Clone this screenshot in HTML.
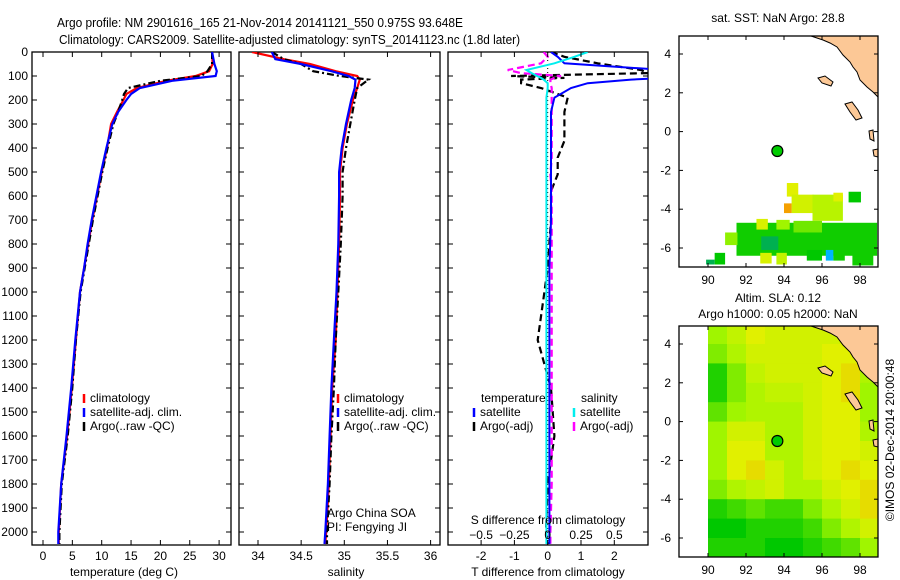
<!DOCTYPE html>
<html><head><meta charset="utf-8"><style>
body{margin:0;background:#fff}
svg{display:block;font-family:"Liberation Sans",Arial,sans-serif}
</style></head><body>
<svg id="c" width="900" height="580" viewBox="0 0 900 580" xmlns="http://www.w3.org/2000/svg">
<rect width="900" height="580" fill="#fff"/>
<text x="57" y="27" font-size="13" textLength="406" lengthAdjust="spacingAndGlyphs">Argo profile: NM 2901616_165 21-Nov-2014 20141121_550 0.975S 93.648E</text>
<text x="59" y="44" font-size="13" textLength="461" lengthAdjust="spacingAndGlyphs">Climatology: CARS2009. Satellite-adjusted climatology: synTS_20141123.nc (1.8d later)</text>
<g id="root"></g>
</svg>
<script>
// ---- data ----
const tDepth=[0,50,80,100,120,150,175,200,250,300,400,500,600,700,800,900,1000,1200,1400,1600,1800,2000,2050];
const tClim=[28.8,28.9,28.3,26,21,16,14.2,13.7,12.6,11.6,10.9,10,9.2,8.4,7.7,7,6.3,5.6,4.9,4.1,3.1,2.7,2.7];
const tSat=[28.8,29.2,29.6,29.4,22,16.5,15,14.2,12.8,11.8,10.8,9.9,9.1,8.3,7.6,7,6.3,5.5,4.8,4,3.1,2.6,2.6];
const tArgo=[28.8,28.8,28,27,20,14.5,13.8,13.5,12.8,12,11,10.1,9.3,8.5,7.8,7.1,6.4,5.6,5,4.2,3.2,2.8,2.8];
const sDepth=[0,30,50,80,100,115,150,200,300,400,500,600,800,1000,1200,1400,1600,1800,2000,2050];
const sClim=[33.93,34.3,34.6,34.9,35.15,35.18,35.15,35.1,35.03,34.98,34.95,34.95,34.94,34.92,34.9,34.86,34.84,34.82,34.79,34.78];
const sSat=[34.16,34.2,34.5,34.85,35.05,35.13,35.12,35.08,35.02,34.97,34.94,34.94,34.93,34.91,34.88,34.85,34.83,34.81,34.78,34.77];
const sArgo=[34.16,34.3,34.5,34.64,34.95,35.28,35.15,35.12,35.07,35.02,34.98,34.98,34.96,34.93,34.9,34.88,34.85,34.83,34.8,34.8];
const dDepth=[0,20,47,75,88,100,108,115,130,150,190,250,300,370,440,510,580,700,900,1000,1200,1400,1600,1800,2000,2050];
const dTSat=[0.1,0.3,0.5,3.5,3.5,3.5,3.5,2.5,1.2,0.7,0.2,0.1,0.1,0.1,0.1,0.1,0.1,0.1,0.05,0.05,0.05,0.05,0.05,0.05,0.05,0.05];
const dTArgo=[0.1,0.5,1.5,2.8,3,-1.1,0.5,-0.8,-0.8,-0.2,0.6,0.5,0.5,0.5,0.3,0.3,0.1,0.1,0,-0.1,-0.3,0.1,0.2,0,-0.05,0];
const dSSat=[0.3,0.2,0.05,-0.16,-0.12,-0.08,-0.05,-0.03,0,0,-0.01,-0.01,-0.01,-0.01,-0.01,-0.01,-0.01,-0.01,-0.01,-0.01,-0.01,-0.01,-0.01,-0.01,-0.01,-0.01];
const dSArgo=[-0.03,0,-0.05,-0.3,-0.2,0.1,0.05,0.02,0.02,0.03,0.03,0.03,0.03,0.03,0.03,0.02,0.03,0.03,0.03,0.03,0.03,0.03,0.03,0.03,0.02,0.02];
const tTicks=[0,5,10,15,20,25,30];
const sTicks=[34,34.5,35,35.5,36];
const dTTicks=[-2,-1,0,1,2];
const dSTicks=[-0.5,-0.25,0,0.25,0.5];
const depthTicks=[0,100,200,300,400,500,600,700,800,900,1000,1100,1200,1300,1400,1500,1600,1700,1800,1900,2000];
const lonTicks=[90,92,94,96,98];
const latTicks=[4,2,0,-2,-4,-6];
const floatLon=93.65, floatLat=-1;
// SST cells: lon0, lat0(south), width, height (deg), value
const sstCells=[[91.5,-6.4,7.4,1.7,0.05],[94.15,-3.35,0.6,0.7,0.9],[94.4,-4.2,1.15,0.95,0.8],[94.0,-4.2,0.4,0.5,1.3],[95.5,-4.6,1.6,1.35,0.65],[96.6,-3.6,0.5,0.45,0.9],[97.4,-3.65,0.65,0.55,0.0],[92.55,-5.05,0.6,0.55,0.85],[93.6,-5.05,0.7,0.5,0.5],[90.9,-5.85,0.65,0.65,0.45],[92.75,-6.8,0.6,0.55,0.85],[93.6,-6.85,0.55,0.6,0.7],[90.35,-6.85,0.55,0.6,0.0],[89.9,-6.85,0.45,0.25,-0.2],[95.2,-6.65,0.8,0.55,0.0],[96.2,-6.65,0.4,0.55,-0.8],[96.6,-6.65,0.6,0.55,0.05],[97.6,-6.9,1.1,0.8,0.05],[92.8,-6.1,0.9,0.7,-0.2],[94.5,-5.2,1.5,0.6,0.35]];
// SLA grid rows lat 5..-7 (1 deg), cols lon 90..99
const slaRows=[
[0.5,0.7,0.9,0.8,0.8,0.8,0.8,0.9,0.3],
[0.4,0.6,0.8,0.8,0.8,0.8,0.9,0.9,0.5],
[0.1,0.4,0.7,0.8,0.8,0.8,0.9,1.0,0.6],
[0.1,0.4,0.6,0.7,0.7,0.8,0.9,1.0,0.5],
[0.3,0.5,0.6,0.6,0.6,0.8,0.9,0.9,0.5],
[0.5,0.8,0.8,0.6,0.6,0.8,0.9,0.9,0.6],
[0.5,0.9,0.9,0.6,0.6,0.8,0.9,0.9,0.8],
[0.5,0.9,1.0,0.8,0.6,0.8,0.9,1.0,0.9],
[0.4,0.6,0.7,0.8,0.6,0.6,0.8,0.9,1.0],
[0.1,0.2,0.3,0.2,0.2,0.4,0.6,0.8,1.0],
[0.0,0.0,0.1,0.1,0.1,0.2,0.4,0.6,0.8],
[0.1,0.1,0.1,0.0,0.0,0.1,0.2,0.3,0.5]];

const NS='http://www.w3.org/2000/svg';
const root=document.getElementById('root');
function mk(tag,attrs,parent){const e=document.createElementNS(NS,tag);for(const k in attrs)e.setAttribute(k,attrs[k]);(parent||root).appendChild(e);return e;}
function txt(x,y,s,size,anchor,parent){const t=mk('text',{x:x,y:y,'font-size':size||12,'text-anchor':anchor||'start'},parent);t.textContent=s;return t;}

// profile panels
const PT=52,PB=545,DPX=0.24;
const yD=d=>PT+d*DPX;
function panel(x0,x1,name){
  const g=mk('g',{});
  
  
  const r=mk('rect',{x:x0,y:PT,width:x1-x0,height:PB-PT,fill:'none',stroke:'#000','stroke-width':1.3},g);
  
  
  depthTicks.forEach(d=>{mk('line',{x1:x0,x2:x0+5,y1:yD(d),y2:yD(d),stroke:'#000'},g);mk('line',{x1:x1-5,x2:x1,y1:yD(d),y2:yD(d),stroke:'#000'},g);});
  return g;
}
function line(g,xs,ds,fx,color,dash,w,name){
  const pts=xs.map((v,i)=>fx(v).toFixed(1)+','+yD(ds[i]).toFixed(1)).join(' ');
  const p=mk('polyline',{points:pts,fill:'none',stroke:color,'stroke-width':w||2.2},g);
  if(dash)p.setAttribute('stroke-dasharray',dash);
  
  
}
function clip(id,x0,x1,y0,y1){const cp=mk('clipPath',{id:id});mk('rect',{x:x0,y:y0,width:x1-x0,height:y1-y0},cp);}
function legendEntry(g,x,y,color,label,dash){
  mk('line',{x1:x,x2:x,y1:y-8,y2:y+1,stroke:color,'stroke-width':2.5},g);
  txt(x+6,y,label,12,'start',g);
}

// Panel 1 temperature
const xT=v=>43+v*5.87;
const g1=panel(32,231,'temperature-panel');
clip('c1',32,231,PT,PB);
const l1=mk('g',{'clip-path':'url(#c1)'},g1);
line(l1,tClim,tDepth,xT,'#f00',null,2.2,'temp-climatology-line');
line(l1,tArgo,tDepth,xT,'#000','7,3,2,3',2.2,'temp-argo-line');
line(l1,tSat,tDepth,xT,'#00f',null,2.2,'temp-satellite-line');
depthTicks.forEach(d=>{const t=txt(28,yD(d)+4,String(d),12,'end');});
tTicks.forEach(v=>{mk('line',{x1:xT(v),x2:xT(v),y1:PB,y2:PB-5,stroke:'#000'});mk('line',{x1:xT(v),x2:xT(v),y1:PT,y2:PT+5,stroke:'#000'});txt(xT(v),560,String(v),12,'middle');});
const xl1=txt(124,576,'temperature (deg C)',12,'middle');
const lg1=mk('g',{});
legendEntry(lg1,84,402,'#f00','climatology');legendEntry(lg1,84,416,'#00f','satellite-adj. clim.');legendEntry(lg1,84,430,'#000','Argo(..raw -QC)');

// Panel 2 salinity
const xS=v=>258+(v-34)*86.3;
const g2=panel(239,440,'salinity-panel');
clip('c2',239,440,PT,PB);
const l2=mk('g',{'clip-path':'url(#c2)'},g2);
line(l2,sClim,sDepth,xS,'#f00',null,2.2,'sal-climatology-line');
line(l2,sArgo,sDepth,xS,'#000','7,3,2,3',2.2,'sal-argo-line');
line(l2,sSat,sDepth,xS,'#00f',null,2.2,'sal-satellite-line');
sTicks.forEach(v=>{mk('line',{x1:xS(v),x2:xS(v),y1:PB,y2:PB-5,stroke:'#000'});mk('line',{x1:xS(v),x2:xS(v),y1:PT,y2:PT+5,stroke:'#000'});txt(xS(v),560,String(v),12,'middle');});
const xl2=txt(346,576,'salinity',12,'middle');
const lg2=mk('g',{});
legendEntry(lg2,338,402,'#f00','climatology');legendEntry(lg2,338,416,'#00f','satellite-adj. clim.');legendEntry(lg2,338,430,'#000','Argo(..raw -QC)');
txt(327,517,'Argo China SOA',12);txt(327,531,'PI: Fengying JI',12);

// Panel 3 differences
const xDT=v=>547.7+v*33.3;
const xDS=v=>547.7+v*133.3;
const g3=panel(448,648,'difference-panel');
clip('c3',448,648,PT,PB);
const l3=mk('g',{'clip-path':'url(#c3)'},g3);
mk('line',{x1:547.7,x2:547.7,y1:PT,y2:PB,stroke:'#000','stroke-dasharray':'1,3'},l3);
line(l3,dTArgo,dDepth,xDT,'#000','7,4',2.2,'tdiff-argo-line');
line(l3,dSArgo,dDepth,xDS,'#f0f','7,4',2.2,'sdiff-argo-line');
line(l3,dTSat,dDepth,xDT,'#00f',null,2,'tdiff-satellite-line');
line(l3,dSSat,dDepth,xDS,'#0ee',null,2,'sdiff-satellite-line');
dTTicks.forEach(v=>{mk('line',{x1:xDT(v),x2:xDT(v),y1:PB,y2:PB-5,stroke:'#000'});mk('line',{x1:xDT(v),x2:xDT(v),y1:PT,y2:PT+5,stroke:'#000'});txt(xDT(v),560,String(v),12,'middle');});
dSTicks.forEach(v=>{txt(xDS(v),539,v<0?'\u2212'+String(-v):String(v),12,'middle');});
txt(548,524,'S difference from climatology',12,'middle');
const xl3=txt(548,576,'T difference from climatology',12,'middle');
const lg3=mk('g',{});
txt(481,402,'temperature',12,'start',lg3);txt(581,402,'salinity',12,'start',lg3);
legendEntry(lg3,474,416,'#00f','satellite');legendEntry(lg3,474,430,'#000','Argo(-adj)');
legendEntry(lg3,574,416,'#0ee','satellite');legendEntry(lg3,574,430,'#f0f','Argo(-adj)');

// ---- maps ----
function col(v){
  if(v<-0.5)return '#00b4ff';
  if(v<-0.1)return '#00b050';
  const stops=[[0,[0,200,0]],[0.5,[160,245,0]],[0.9,[225,240,0]],[1.3,[245,160,0]]];
  let a=stops[0],b=stops[stops.length-1];
  for(let i=0;i<stops.length-1;i++){if(v>=stops[i][0]&&v<=stops[i+1][0]){a=stops[i];b=stops[i+1];break;}}
  if(v>1.3)a=b;
  const t=b[0]===a[0]?0:(v-a[0])/(b[0]-a[0]);
  const c=a[1].map((x,i)=>Math.round(x+(b[1][i]-x)*t));
  return 'rgb('+c.join(',')+')';
}
const landRel=[[811,36],[817,38],[823,40],[830,43],[837,47],[843,55],[850,62],[853,67],[857,72],[860,80],[867,87],[873,92],[878,97],[878,36]];
const islands=[[[818,78],[825,76],[833,82],[831,86],[822,83]],[[845,104],[852,102],[858,110],[862,118],[856,120],[850,112]],[[869,131],[873,130],[874,141],[870,139]],[[873,150],[878,149],[878,157],[874,156]]];
function map(top,name,drawData){
  const L=679,R=878,T=top,B=top+231;
  const lonX=lon=>708+(lon-90)*19;
  const latY=lat=>top+18+(4-lat)*19.4;
  const g=mk('g',{});
  
  
  const id='clip-'+name;
  clip(id,L,R,T,B);
  const inner=mk('g',{'clip-path':'url(#'+id+')'},g);
  drawData(inner,lonX,latY);
  const off=top-36;
  mk('polygon',{points:landRel.map(p=>p[0]+','+(p[1]+off)).join(' '),fill:'#fcc896',stroke:'#000','stroke-width':1},inner);
  islands.forEach(isl=>mk('polygon',{points:isl.map(p=>p[0]+','+(p[1]+off)).join(' '),fill:'#fcc896',stroke:'#000','stroke-width':1},inner));
  const dot=mk('circle',{cx:lonX(floatLon),cy:latY(floatLat),r:5.5,fill:'#00cc00',stroke:'#000','stroke-width':1.2},g);
  
  
  mk('rect',{x:L,y:T,width:R-L,height:B-T,fill:'none',stroke:'#000','stroke-width':1.3},g);
  lonTicks.forEach(v=>{mk('line',{x1:lonX(v),x2:lonX(v),y1:B,y2:B-4,stroke:'#000'},g);mk('line',{x1:lonX(v),x2:lonX(v),y1:T,y2:T+4,stroke:'#000'},g);txt(lonX(v),B+17,String(v),12,'middle',g);});
  latTicks.forEach(v=>{mk('line',{x1:L,x2:L+4,y1:latY(v),y2:latY(v),stroke:'#000'},g);mk('line',{x1:R-4,x2:R,y1:latY(v),y2:latY(v),stroke:'#000'},g);txt(L-8,latY(v)+4,String(v),12,'end',g);});
  return g;
}
map(36,'sst-map',(g,lonX,latY)=>{
  sstCells.forEach(c=>{
    const r=mk('rect',{x:lonX(c[0]),y:latY(c[1]+c[3]),width:c[2]*19,height:c[3]*19.4,fill:col(c[4])},g);
    
    
  });
});
map(326,'sla-map',(g,lonX,latY)=>{
  slaRows.forEach((row,i)=>{
    row.forEach((v,j)=>{
      const lon=90+j, latTop=5-i;
      const r=mk('rect',{x:lonX(lon),y:latY(latTop),width:19.5,height:19.9,fill:col(v)},g);
      
      
    });
  });
  mk('rect',{x:lonX(89),y:latY(5),width:lonX(89.9)-lonX(89),height:260,fill:'#fff'},g);
});
const mt1=txt(778,22,'sat. SST: NaN Argo: 28.8',12,'middle');
const mt2=txt(778,302,'Altim. SLA: 0.12',12,'middle');
txt(778,318,'Argo h1000: 0.05 h2000: NaN',12,'middle');
const cr=txt(0,0,'\u00a9IMOS 02-Dec-2014 20:00:48',12,'middle');
cr.setAttribute('transform','translate(894,440) rotate(-90)');


</script>
</body></html>
